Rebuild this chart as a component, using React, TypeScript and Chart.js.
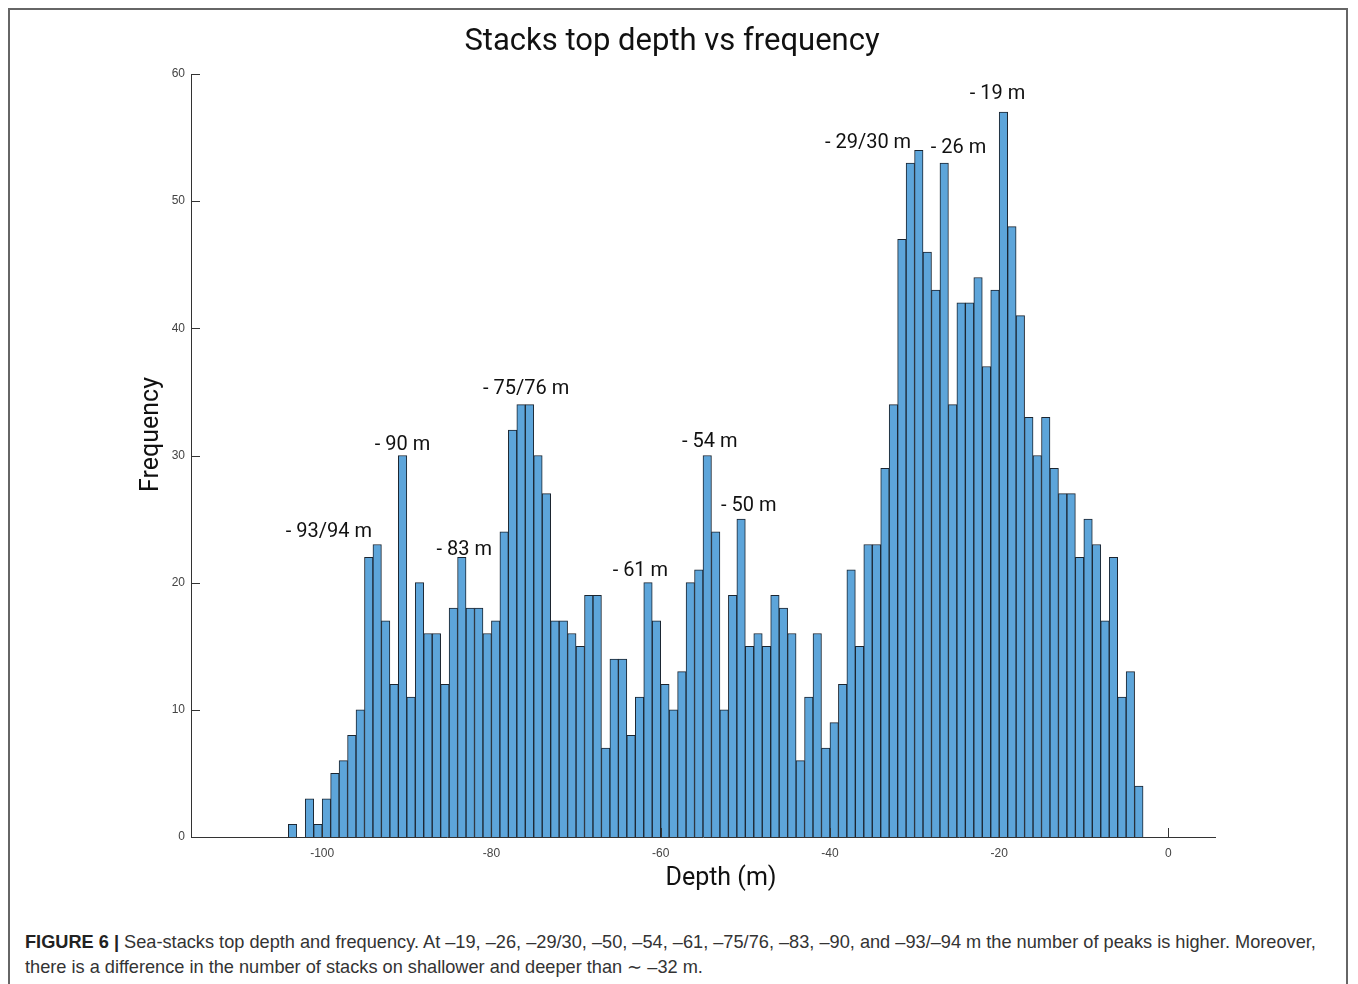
import React, { useEffect, useRef } from "react";
import { Chart, registerables } from "chart.js";

Chart.register(...registerables);

// Right edge (m) of each 1 m depth bin
const depthBins = [
  -103, -102, -101, -100, -99, -98, -97, -96, -95, -94, -93, -92, -91, -90, -89, -88, -87, -86, -85, -84,
  -83, -82, -81, -80, -79, -78, -77, -76, -75, -74, -73, -72, -71, -70, -69, -68, -67, -66, -65, -64,
  -63, -62, -61, -60, -59, -58, -57, -56, -55, -54, -53, -52, -51, -50, -49, -48, -47, -46, -45, -44,
  -43, -42, -41, -40, -39, -38, -37, -36, -35, -34, -33, -32, -31, -30, -29, -28, -27, -26, -25, -24,
  -23, -22, -21, -20, -19, -18, -17, -16, -15, -14, -13, -12, -11, -10, -9, -8, -7, -6, -5, -4, -3,
];

const frequencies = [
  1, 0, 3, 1, 3, 5, 6, 8, 10, 22, 23, 17, 12, 30, 11, 20, 16, 16, 12, 18,
  22, 18, 18, 16, 17, 24, 32, 34, 34, 30, 27, 17, 17, 16, 15, 19, 19, 7, 14, 14,
  8, 11, 20, 17, 12, 10, 13, 20, 21, 30, 24, 10, 19, 25, 15, 16, 15, 19, 18, 16,
  6, 11, 16, 7, 9, 12, 21, 15, 23, 23, 29, 34, 47, 53, 54, 46, 43, 53, 34, 42,
  42, 44, 37, 43, 57, 48, 41, 33, 30, 33, 29, 27, 27, 22, 25, 23, 17, 22, 11, 13, 4,
];

const xTickValues = [-100, -80, -60, -40, -20, 0];
const yTickValues = [0, 10, 20, 30, 40, 50, 60];

const peakLabels = ["- 93/94 m", "- 90 m", "- 83 m", "- 75/76 m", "- 61 m", "- 54 m", "- 50 m", "- 29/30 m", "- 26 m", "- 19 m"];
const peakLabelX = [-99.2, -90.5, -83.2, -75.9, -62.4, -54.2, -49.6, -35.5, -24.8, -20.2];
const peakLabelY = [24.0, 30.8, 22.6, 35.2, 20.9, 31.1, 26.0, 54.6, 54.2, 58.4];

const TITLE = "Stacks top depth vs frequency";
const X_TITLE = "Depth (m)";
const Y_TITLE = "Frequency";

const BAR_FILL = "#5DA5DA";
const BAR_EDGE = "#1b2530";
const AXIS = "#333333";

const inwardTicks = {
  id: "inwardTicks",
  afterDatasetsDraw(chart: any) {
    const { ctx, chartArea, scales } = chart;
    ctx.save();
    ctx.strokeStyle = AXIS;
    ctx.lineWidth = 1;
    ctx.beginPath();
    for (const v of yTickValues) {
      const py = Math.round(scales.y.getPixelForValue(v)) + 0.5;
      ctx.moveTo(chartArea.left, py);
      ctx.lineTo(chartArea.left + 9, py);
    }
    for (const v of xTickValues) {
      const px = Math.round(scales.x.getPixelForValue(v)) + 0.5;
      ctx.moveTo(px, chartArea.bottom);
      ctx.lineTo(px, chartArea.bottom - 9);
    }
    ctx.stroke();
    ctx.restore();
  },
};

const peakAnnotations = {
  id: "peakAnnotations",
  afterDatasetsDraw(chart: any) {
    const { ctx, scales } = chart;
    ctx.save();
    ctx.font = "20px Roboto";
    ctx.fillStyle = "#111111";
    ctx.textAlign = "center";
    ctx.textBaseline = "middle";
    peakLabels.forEach((t, i) => {
      ctx.fillText(t, scales.x.getPixelForValue(peakLabelX[i]), scales.y.getPixelForValue(peakLabelY[i]));
    });
    ctx.restore();
  },
};

const axisTitles = {
  id: "axisTitles",
  afterDraw(chart: any) {
    const { ctx, chartArea } = chart;
    ctx.save();
    ctx.fillStyle = "#111111";
    ctx.font = "25px Roboto";
    ctx.textAlign = "center";
    ctx.textBaseline = "middle";
    const cx = (chartArea.left + chartArea.right) / 2;
    const cy = (chartArea.top + chartArea.bottom) / 2;
    ctx.fillText(X_TITLE, cx + 18, chartArea.bottom + 42);
    ctx.translate(chartArea.left - 39, cy - 21);
    ctx.rotate(-Math.PI / 2);
    ctx.fillText(Y_TITLE, 0, 0);
    ctx.restore();
  },
};

export default function App() {
  const ref = useRef<HTMLCanvasElement>(null);

  useEffect(() => {
    document.documentElement.style.overflow = "hidden";
    document.body.style.overflow = "hidden";
    if (!ref.current) return;
    const chart = new Chart(ref.current, {
      type: "bar",
      data: {
        datasets: [
          {
            data: depthBins.map((d, i) => ({ x: d - 0.5, y: frequencies[i] })),
            backgroundColor: BAR_FILL,
            borderColor: BAR_EDGE,
            borderWidth: 1,
            barPercentage: 1,
            categoryPercentage: 1,
          } as any,
        ],
      },
      options: {
        responsive: false,
        animation: false,
        events: [],
        layout: { padding: { left: 119, right: 131, top: 0, bottom: 0 } },
        plugins: {
          legend: { display: false },
          tooltip: { enabled: false },
          title: {
            display: true,
            text: TITLE,
            color: "#111111",
            font: { family: "Roboto", size: 31, weight: "normal" as any, lineHeight: 1.2 },
            padding: { top: 13.4, bottom: 13.4 },
          },
        },
        scales: {
          x: {
            type: "linear",
            min: -115.5,
            max: 5.5,
            offset: false,
            grace: 0,
            z: 1,
            grid: { display: false, drawTicks: false, offset: false },
            border: { display: true, color: AXIS, width: 1 },
            afterBuildTicks: (s: any) => {
              s.ticks = xTickValues.map((v) => ({ value: v }));
            },
            afterFit: (s: any) => {
              s.height = 73;
            },
            ticks: {
              padding: 9,
              autoSkip: false,
              maxRotation: 0,
              color: "#444444",
              font: { family: "'Liberation Sans', Arial, sans-serif", size: 12 },
            },
          },
          y: {
            min: 0,
            max: 60,
            z: 1,
            grid: { display: false, drawTicks: false },
            border: { display: true, color: AXIS, width: 1 },
            afterBuildTicks: (s: any) => {
              s.ticks = yTickValues.map((v) => ({ value: v }));
            },
            afterFit: (s: any) => {
              s.width = 62;
            },
            ticks: {
              padding: 6,
              color: "#444444",
              font: { family: "'Liberation Sans', Arial, sans-serif", size: 12 },
            },
          },
        },
      } as any,
      plugins: [inwardTicks, peakAnnotations, axisTitles],
    });
    return () => chart.destroy();
  }, []);

  return (
    <div
      style={{
        width: 1336,
        height: 1000,
        border: "2px solid #666",
        background: "#fff",
      }}
    >
      <canvas ref={ref} width={1336} height={900} style={{ display: "block" }} />
      <div
        style={{
          marginTop: 20,
          paddingLeft: 15,
          fontFamily: "'Liberation Sans', Arial, sans-serif",
          fontSize: 18.2,
          lineHeight: "25px",
          color: "#333",
          whiteSpace: "nowrap",
        }}
      >
        <b style={{ color: "#222" }}>FIGURE 6 |</b> Sea-stacks top depth and frequency. At –19, –26, –29/30, –50, –54, –61,
        –75/76, –83, –90, and –93/–94 m the number of peaks is higher. Moreover,
        <br />
        there is a difference in the number of stacks on shallower and deeper than ∼ –32 m.
      </div>
    </div>
  );
}
